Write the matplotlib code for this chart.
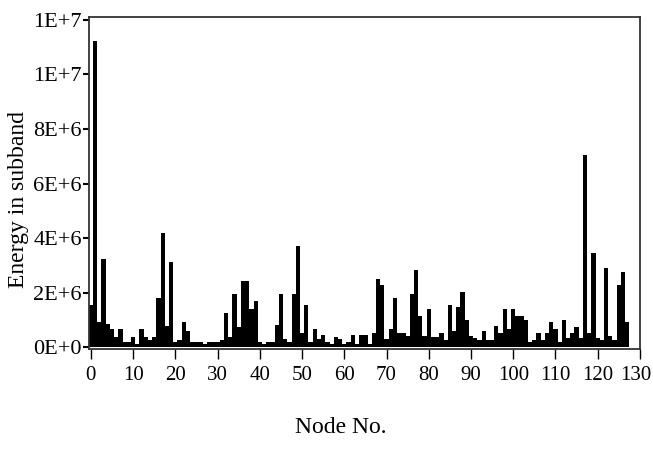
import numpy as np
import matplotlib
matplotlib.use('Agg')
import matplotlib.pyplot as plt
import matplotlib.transforms as mtransforms

# --- data: energy per node (in units of 1e6) ---
nodes = np.arange(128)
energy_millions = [
    1.56, 11.22, 0.92, 3.22, 0.84, 0.68, 0.36, 0.68, 0.19, 0.19,
    0.36, 0.13, 0.68, 0.36, 0.28, 0.36, 1.80, 4.19, 0.76, 3.14,
    0.19, 0.28, 0.92, 0.58, 0.19, 0.19, 0.19, 0.12, 0.19, 0.19,
    0.19, 0.28, 1.24, 0.37, 1.96, 0.75, 2.43, 2.43, 1.40, 1.71,
    0.19, 0.12, 0.19, 0.19, 0.83, 1.96, 0.29, 0.19, 1.96, 3.71,
    0.51, 1.56, 0.19, 0.68, 0.29, 0.44, 0.19, 0.12, 0.37, 0.29,
    0.12, 0.19, 0.44, 0.12, 0.44, 0.44, 0.12, 0.51, 2.51, 2.27,
    0.29, 0.68, 1.79, 0.51, 0.51, 0.43, 1.96, 2.84, 1.16, 0.43,
    1.40, 0.37, 0.37, 0.51, 0.27, 1.56, 0.59, 1.47, 2.04, 0.99,
    0.43, 0.35, 0.27, 0.59, 0.27, 0.27, 0.77, 0.51, 1.40, 0.66,
    1.40, 1.15, 1.15, 0.99, 0.19, 0.28, 0.53, 0.28, 0.53, 0.92,
    0.68, 0.20, 0.99, 0.35, 0.53, 0.75, 0.35, 7.05, 0.53, 3.45,
    0.35, 0.27, 2.92, 0.43, 0.27, 2.28, 2.74, 0.92,
]
energy = np.array(energy_millions) * 1e6

xticks = np.arange(0, 131, 10)
yticks = [0, 2e6, 4e6, 6e6, 8e6, 1e7, 1.2e7]
ytick_labels = ['0E+0', '2E+6', '4E+6', '6E+6', '8E+6', '1E+7', '1E+7']

plt.rcParams['font.family'] = ['Liberation Serif', 'DejaVu Serif']

fig = plt.figure(figsize=(6.53, 4.49), dpi=100)
ax = fig.add_axes([0.136, 0.223, 0.844, 0.739])

ax.bar(nodes, energy, width=1.0, color='black', linewidth=0)

ax.set_xlim(-0.5, 130)
ax.set_ylim(-0.06e6, 1.21e7)
ax.set_xticks(xticks)
ax.set_yticks(yticks)
ax.set_yticklabels(ytick_labels)

for s in ax.spines.values():
    s.set_linewidth(1.3)
    s.set_color('#333333')

ax.tick_params(axis='x', direction='out', length=7, width=1, pad=5, labelsize=15)
ax.tick_params(axis='y', direction='out', length=4, width=1.5, pad=1, labelsize=16)

# last x label sits on the figure edge; nudge it left a little so it is not clipped
last = ax.get_xticklabels()[-1]
last.set_transform(last.get_transform() + mtransforms.ScaledTranslation(-3 / 72, 0, fig.dpi_scale_trans))

ax.set_xlabel('Node No.', fontsize=17)
ax.xaxis.set_label_coords(0.457, -0.205)
ax.set_ylabel('Energy in subband', fontsize=17)
ax.yaxis.set_label_coords(-0.108, 0.449)

fig.savefig('out.png', dpi=100)
